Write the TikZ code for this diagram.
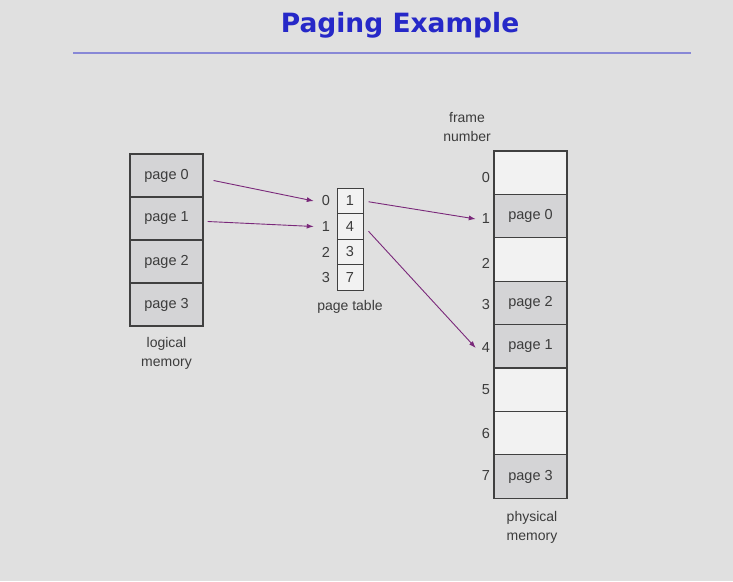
\documentclass[tikz,border=0pt]{standalone}
\usepackage{fontspec}
\setmainfont{Liberation Sans}
\newfontfamily\titlefont{DejaVu Sans}
\usetikzlibrary{arrows.meta}
\definecolor{slidebg}{RGB}{224,224,224}
\definecolor{usedcell}{RGB}{212,212,214}
\definecolor{freecell}{RGB}{242,242,242}
\definecolor{titleblue}{RGB}{38,40,200}
\definecolor{ruleblue}{RGB}{136,136,214}
\definecolor{arrowpurple}{RGB}{122,40,122}
\definecolor{labelgray}{RGB}{60,60,60}

\tikzset{
  memcell/.style={draw=black!75,line width=1.1pt,fill=usedcell,inner sep=0pt,
    minimum width=73pt,minimum height=43.4pt,font=\fontsize{14.5}{17}\selectfont,text=labelgray},
  freeframe/.style={memcell,fill=freecell},
  ptcell/.style={draw=black!75,line width=1pt,fill=freecell,inner sep=0pt,
    minimum width=26pt,minimum height=25.5pt,font=\fontsize{14.5}{17}\selectfont,text=labelgray},
  numlabel/.style={font=\fontsize{14.5}{17}\selectfont,text=labelgray,inner sep=1pt},
  caption/.style={font=\fontsize{14}{19}\selectfont,text=labelgray,align=center},
  maparrow/.style={-{Latex[length=7pt,width=5pt]},draw=arrowpurple,line width=0.9pt}
}

\begin{document}
\begin{tikzpicture}[x=1pt,y=-1pt]

	\fill[slidebg] (0,0) rectangle (733,581);
	\useasboundingbox (0,0) rectangle (733,581);

	% title
	\node[font=\titlefont\bfseries\fontsize{26.5}{30}\selectfont,text=titleblue] (title) at (400,25) {Paging Example};
	\coordinate (ruleL) at (73,53);
	\coordinate (ruleR) at (691,53);
	\draw[ruleblue,line width=2.5pt] (ruleL) -- (ruleR);

	% logical memory
	\node[memcell,minimum height=43pt] (lp0) at (166.5,175.5) {page 0};
	\node[memcell,minimum height=43pt] (lp1) at (166.5,218.5) {page 1};
	\node[memcell,minimum height=43pt] (lp2) at (166.5,261.5) {page 2};
	\node[memcell,minimum height=43pt] (lp3) at (166.5,304.5) {page 3};
	\node[caption] (lmem) at (166.5,353) {logical\\memory};

	% page table
	\node[ptcell] (pt0) at (350,200.75) {1};
	\node[ptcell] (pt1) at (350,226.25) {4};
	\node[ptcell] (pt2) at (350,251.75) {3};
	\node[ptcell] (pt3) at (350,277.25) {7};
	\node[numlabel] (i0) at (326,201) {0};
	\node[numlabel] (i1) at (326,226.5) {1};
	\node[numlabel] (i2) at (326,252) {2};
	\node[numlabel] (i3) at (326,277.5) {3};
	\node[caption] (ptab) at (350,307) {page table};

	% physical memory
	\node[freeframe] (f0) at (530.5,172.7) {};
	\node[memcell] (fr1) at (530.5,216.1) {page 0};
	\node[freeframe] (fr2) at (530.5,259.5) {};
	\node[memcell] (fr3) at (530.5,302.9) {page 2};
	\node[memcell] (fr4) at (530.5,346.3) {page 1};
	\node[freeframe] (fr5) at (530.5,389.7) {};
	\node[freeframe] (fr6) at (530.5,433.1) {};
	\node[memcell] (fr7) at (530.5,476.5) {page 3};
	\node[numlabel] (n0) at (486,178) {0};
	\node[numlabel] (n1) at (486,219) {1};
	\node[numlabel] (n2) at (486,263) {2};
	\node[numlabel] (n3) at (486,305) {3};
	\node[numlabel] (n4) at (486,348) {4};
	\node[numlabel] (n5) at (486,390) {5};
	\node[numlabel] (n6) at (486,434) {6};
	\node[numlabel] (n7) at (486,476) {7};
	\node[caption] (fnum) at (467,127.5) {frame\\number};
	\node[caption] (pmem) at (532,527) {physical\\memory};

	% mapping
	\draw[maparrow] ([xshift=10pt,yshift=-5pt]lp0.east) -- ([xshift=-7pt]i0.west);
	\draw[maparrow] ([xshift=4pt,yshift=-3pt]lp1.east) -- ([xshift=-7pt]i1.west);
	\draw[maparrow] ([xshift=5pt,yshift=-1pt]pt0.east) -- ([xshift=-5pt]n1.west);
	\draw[maparrow] ([xshift=5pt,yshift=-5pt]pt1.east) -- ([xshift=-5pt]n4.west);

\end{tikzpicture}
\end{document}
